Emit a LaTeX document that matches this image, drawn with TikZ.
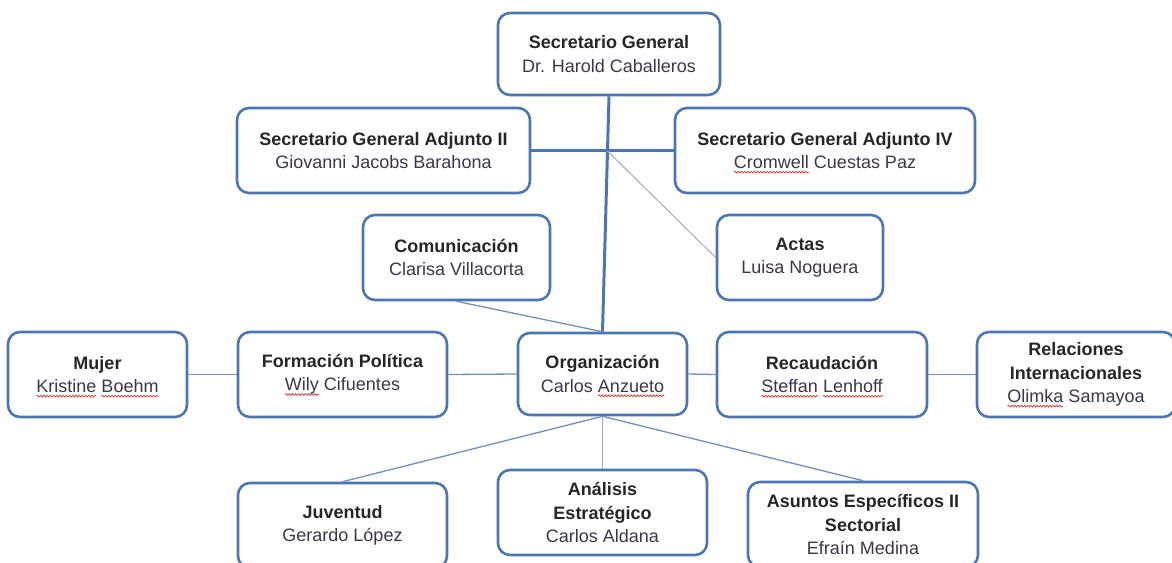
\documentclass[tikz,border=0pt]{standalone}
\usepackage{fontspec}
\setmainfont{Liberation Sans}
\usetikzlibrary{calc,decorations.pathmorphing}
\definecolor{boxblue}{HTML}{4A76B6}
\definecolor{thinblue}{HTML}{7090C0}
\definecolor{thingray}{HTML}{A8ABB0}
\definecolor{titlegray}{HTML}{262626}
\definecolor{namegray}{HTML}{3D3648}
\definecolor{spellred}{HTML}{E03030}
\newsavebox\sqbox
\newlength\sqwd
\newcommand\spellerr[1]{\sbox\sqbox{#1}\setlength\sqwd{\wd\sqbox}%
  \rlap{\tikz[baseline=0pt,x=1pt,y=1pt]{\path[use as bounding box] (0,0) rectangle (0.1,0.1);
  \draw[spellred, line width=0.7pt, rounded corners=0pt, decorate,
    decoration={snake, amplitude=0.9pt, segment length=3.2pt}] (0,-3.5) -- (\sqwd,-3.5);}}%
  \usebox\sqbox}
\newcommand\ttl[1]{{\color{titlegray}\bfseries #1}}
\tikzset{
  box/.style={draw=boxblue, line width=2.6pt, rounded corners=12pt, fill=white,
    align=center, inner sep=0pt, font=\fontsize{18}{23.5}\selectfont, text=namegray},
  thickline/.style={draw=boxblue, line width=3pt},
  thinline/.style={draw=thinblue, line width=1.3pt},
  grayline/.style={draw=thingray, line width=1pt}
}
\begin{document}
\begin{tikzpicture}[x=1pt,y=-1pt]
\useasboundingbox[fill=white] (0,0) rectangle (1172,562);
\node[box, minimum width=222pt, minimum height=82pt] (sg) at (609,54) {\ttl{Secretario General}\\Dr. Harold Caballeros};
\node[box, minimum width=169pt, minimum height=82pt] (org) at (602.5,374) {\ttl{Organización}\\Carlos \spellerr{Anzueto}};
\node[box, minimum width=293pt, minimum height=85pt] (sga2) at (383.5,150.5) {\ttl{Secretario General Adjunto II}\\Giovanni Jacobs Barahona};
\node[box, minimum width=300pt, minimum height=85pt] (sga4) at (825,150.5) {\ttl{Secretario General Adjunto IV}\\\spellerr{Cromwell} Cuestas Paz};
\node[box, minimum width=187pt, minimum height=85pt] (com) at (456.5,257.5) {\ttl{Comunicación}\\Clarisa Villacorta};
\node[box, minimum width=166pt, minimum height=85pt] (act) at (800,257.5) {\ttl{Actas}\\Luisa Noguera};
\node[box, minimum width=179pt, minimum height=85pt] (muj) at (97.5,374.5) {\ttl{Mujer}\\\spellerr{Kristine} \spellerr{Boehm}};
\node[box, minimum width=209pt, minimum height=85pt] (for) at (342.5,374.5) {\ttl{Formación Política}\\\spellerr{Wily} Cifuentes};
\node[box, minimum width=210pt, minimum height=85pt] (rec) at (822,374.5) {\ttl{Recaudación}\\\spellerr{Steffan} \spellerr{Lenhoff}};
\node[box, minimum width=198pt, minimum height=85pt] (rel) at (1076,374.5) {\ttl{Relaciones}\\\ttl{Internacionales}\\\spellerr{Olimka} Samayoa};
\node[box, minimum width=209pt, minimum height=85pt] (juv) at (342.5,525.5) {\ttl{Juventud}\\Gerardo López};
\node[box, minimum width=209pt, minimum height=85pt] (ana) at (602.5,512.5) {\ttl{Análisis}\\\ttl{Estratégico}\\Carlos Aldana};
\node[box, minimum width=230pt, minimum height=85pt] (asu) at (863,524.5) {\ttl{Asuntos Específicos II}\\\ttl{Sectorial}\\Efraín Medina};
\coordinate (j) at ($(sg.south)!0.233!(org.north)$);
\draw[thickline] (sg.south) -- (org.north);
\draw[thickline] (sga2.east) -- (sga4.west);
\draw[grayline] (j) -- (act.west);
\draw[thinline] (com.south) -- (org.north);
\draw[thinline] (muj.east) -- (for.west);
\draw[thinline] (for.east) -- (org.west);
\draw[thinline] (org.east) -- (rec.west);
\draw[thinline] (rec.east) -- (rel.west);
\draw[thinline] (org.south) -- (juv.north);
\draw[grayline] (org.south) -- (ana.north);
\draw[thinline] (org.south) -- (asu.north);
\end{tikzpicture}
\end{document}
